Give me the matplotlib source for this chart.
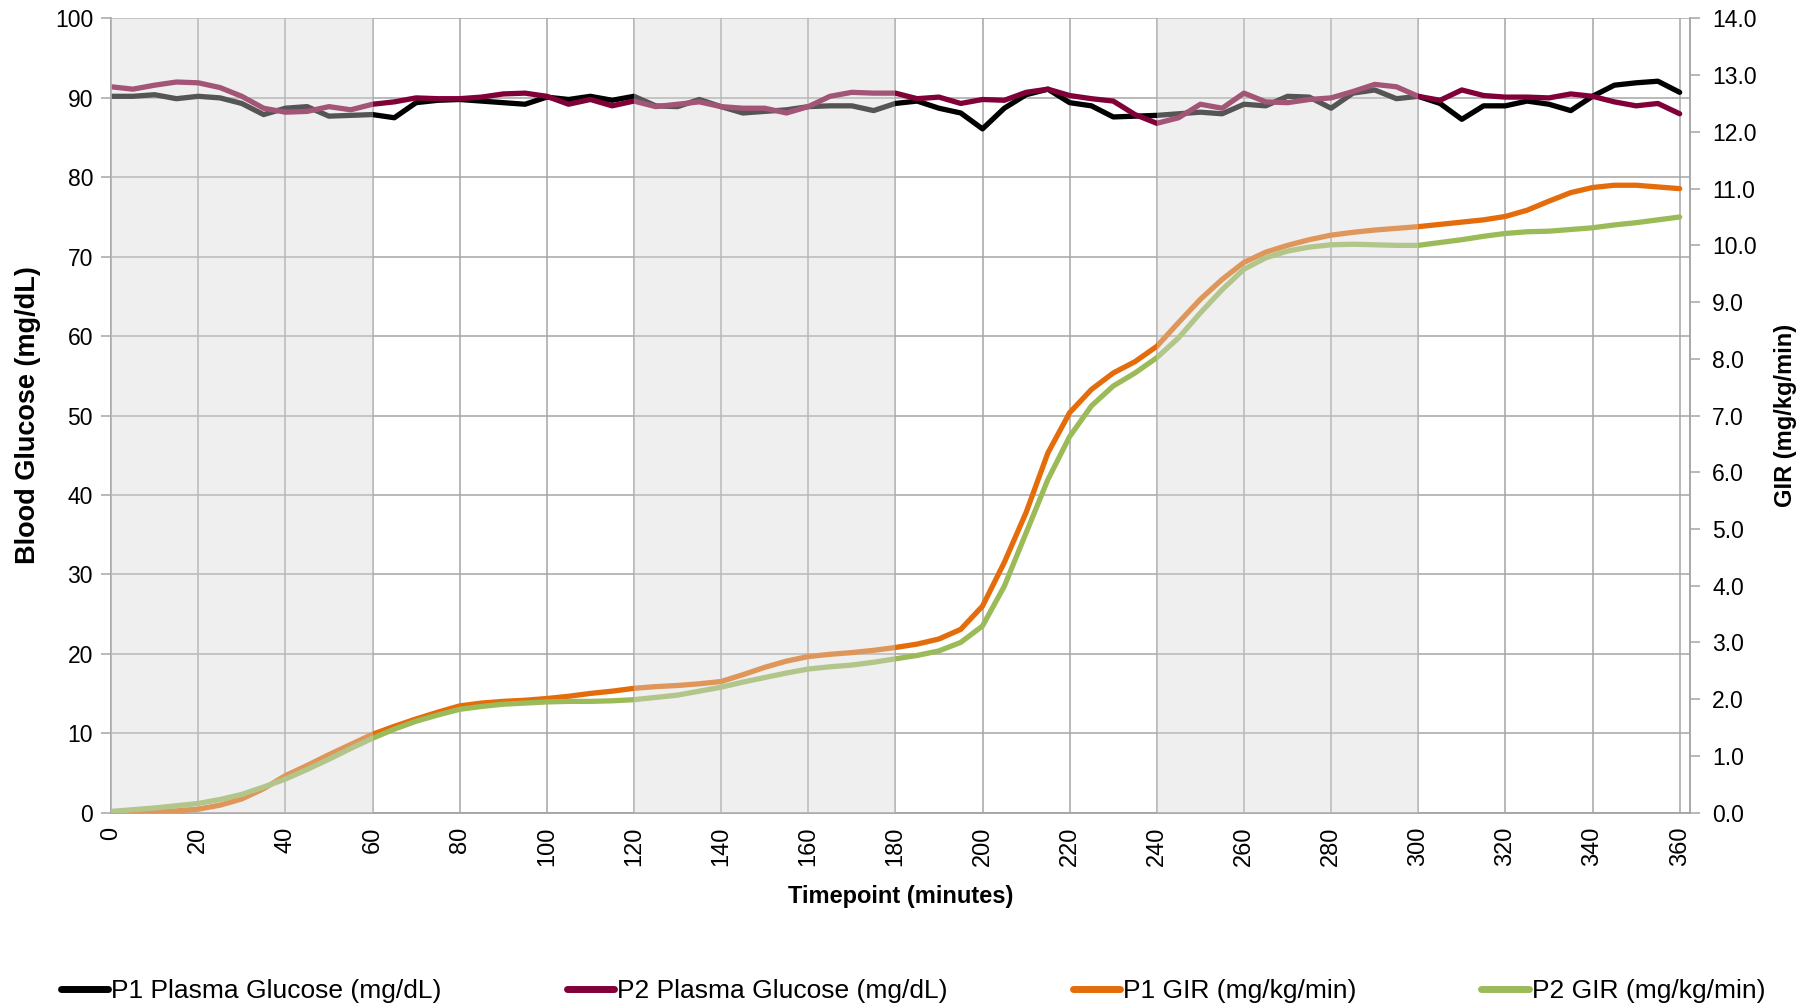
import matplotlib
matplotlib.use("Agg")
import matplotlib.pyplot as plt
from matplotlib.lines import Line2D

# timepoints (minutes), readings every 5 min
minutes = list(range(0, 365, 5))

p1_glucose = [90.2, 90.2, 90.4, 89.9, 90.2, 90.0, 89.3, 87.9, 88.7, 88.9,
              87.7, 87.8, 87.9, 87.5, 89.4, 89.7, 89.8, 89.6, 89.4, 89.2,
              90.1, 89.8, 90.2, 89.7, 90.2, 89.0, 88.9, 89.8, 88.9, 88.1,
              88.3, 88.5, 88.9, 89.0, 89.0, 88.4, 89.3, 89.6, 88.7, 88.1,
              86.1, 88.7, 90.4, 91.1, 89.4, 89.0, 87.6, 87.7, 87.8, 88.0,
              88.2, 88.0, 89.2, 89.0, 90.2, 90.1, 88.7, 90.6, 91.0, 89.9,
              90.2, 89.3, 87.3, 89.0, 89.0, 89.6, 89.2, 88.4, 90.2, 91.6,
              91.9, 92.1, 90.7]

p2_glucose = [91.4, 91.1, 91.6, 92.0, 91.9, 91.3, 90.2, 88.7, 88.2, 88.3,
              88.9, 88.5, 89.2, 89.5, 90.0, 89.9, 89.9, 90.1, 90.5, 90.6,
              90.2, 89.2, 89.8, 89.0, 89.6, 88.9, 89.2, 89.5, 88.9, 88.7,
              88.7, 88.1, 88.9, 90.2, 90.7, 90.6, 90.6, 89.9, 90.1, 89.3,
              89.8, 89.7, 90.7, 91.1, 90.3, 89.9, 89.6, 87.9, 86.8, 87.5,
              89.2, 88.7, 90.6, 89.5, 89.4, 89.8, 90.0, 90.8, 91.7, 91.4,
              90.2, 89.7, 91.0, 90.3, 90.1, 90.1, 90.0, 90.5, 90.2, 89.5,
              89.0, 89.3, 88.0]

p1_gir = [0.00, 0.00, 0.01, 0.03, 0.06, 0.13, 0.24, 0.42, 0.65, 0.83,
          1.02, 1.20, 1.38, 1.52, 1.65, 1.77, 1.88, 1.93, 1.96, 1.98,
          2.01, 2.05, 2.10, 2.14, 2.19, 2.22, 2.24, 2.27, 2.31, 2.43,
          2.56, 2.67, 2.75, 2.79, 2.82, 2.86, 2.91, 2.97, 3.06, 3.23,
          3.64, 4.41, 5.29, 6.34, 7.05, 7.46, 7.75, 7.95, 8.22, 8.64,
          9.05, 9.40, 9.70, 9.88, 10.00, 10.10, 10.18, 10.23, 10.27, 10.30,
          10.33, 10.37, 10.41, 10.45, 10.51, 10.62, 10.78, 10.93, 11.02, 11.06,
          11.06, 11.03, 11.00]

p2_gir = [0.02, 0.05, 0.08, 0.12, 0.16, 0.23, 0.32, 0.45, 0.59, 0.76,
          0.94, 1.13, 1.31, 1.47, 1.61, 1.72, 1.82, 1.87, 1.91, 1.93,
          1.95, 1.96, 1.96, 1.97, 1.99, 2.03, 2.07, 2.14, 2.21, 2.30,
          2.38, 2.46, 2.53, 2.57, 2.60, 2.65, 2.71, 2.77, 2.85, 3.00,
          3.29, 3.99, 4.93, 5.87, 6.63, 7.17, 7.52, 7.75, 8.02, 8.37,
          8.81, 9.22, 9.58, 9.78, 9.90, 9.97, 10.01, 10.02, 10.01, 10.00,
          10.00, 10.05, 10.10, 10.16, 10.21, 10.24, 10.25, 10.28, 10.31, 10.36,
          10.40, 10.45, 10.50]

# shaded hour bands
bands = [(0, 60), (120, 180), (240, 300)]

labels = ["P1 Plasma Glucose (mg/dL)", "P2 Plasma Glucose (mg/dL)",
          "P1 GIR (mg/kg/min)", "P2 GIR (mg/kg/min)"]
colors = ["#000000", "#820038", "#e46c0a", "#9bbb59"]

grid_col = "#a6a6a6"
plt.rcParams["font.family"] = ["Liberation Sans", "DejaVu Sans"]

fig = plt.figure(figsize=(18.15, 10.05), dpi=100)
ax = fig.add_axes([0.0612, 0.1915, 0.8700, 0.7901])
ax2 = ax.twinx()

lw = 3.8
style = dict(lw=lw, solid_capstyle="round", solid_joinstyle="round", zorder=3)
ax.plot(minutes, p1_glucose, color=colors[0], **style)
ax.plot(minutes, p2_glucose, color=colors[1], **style)
ax2.plot(minutes, p1_gir, color=colors[2], **style)
ax2.plot(minutes, p2_gir, color=colors[3], **style)

# translucent bands sit on top of the lines (lines look paler inside them)
for a, b in bands:
    ax2.axvspan(a, b, color="#d7d7d7", alpha=0.4, lw=0, zorder=5)

ax.set_xlim(0, 362.4)
ax.set_ylim(0, 100)
ax2.set_ylim(0, 14)

ax.set_xticks(range(0, 361, 20))
ax.set_yticks(range(0, 101, 10))
ax2.set_yticks(list(range(0, 15)))
ax2.set_yticklabels([f"{i:.1f}" for i in range(0, 15)])

ax.grid(True, color=grid_col, lw=1.1)
ax.set_axisbelow(True)

for a in (ax, ax2):
    for s in a.spines.values():
        s.set_color(grid_col)
        s.set_linewidth(1.1)
    a.spines["top"].set_visible(False)

ax.tick_params(axis="x", length=0, pad=10, labelsize=17, labelrotation=90)
ax.tick_params(axis="y", length=7, width=1.1, color=grid_col, pad=6, labelsize=16.5)
ax2.tick_params(axis="y", length=7, width=1.1, color=grid_col, pad=9, labelsize=16.5)

ax.set_xlabel("Timepoint (minutes)", fontsize=17, fontweight="bold", labelpad=14)
ax.set_ylabel("Blood Glucose (mg/dL)", fontsize=19.5, fontweight="bold", labelpad=10)
ax2.set_ylabel("GIR (mg/kg/min)", fontsize=17, fontweight="bold", labelpad=12)

handles = [Line2D([], [], color=c, lw=5, solid_capstyle="round") for c in colors]
fig.legend(handles, labels, loc="lower center", bbox_to_anchor=(0.503, -0.022),
           ncol=4, frameon=False, fontsize=19, handlelength=1.8,
           handletextpad=0.1, columnspacing=4.75)

fig.savefig("out.png", dpi=100)
